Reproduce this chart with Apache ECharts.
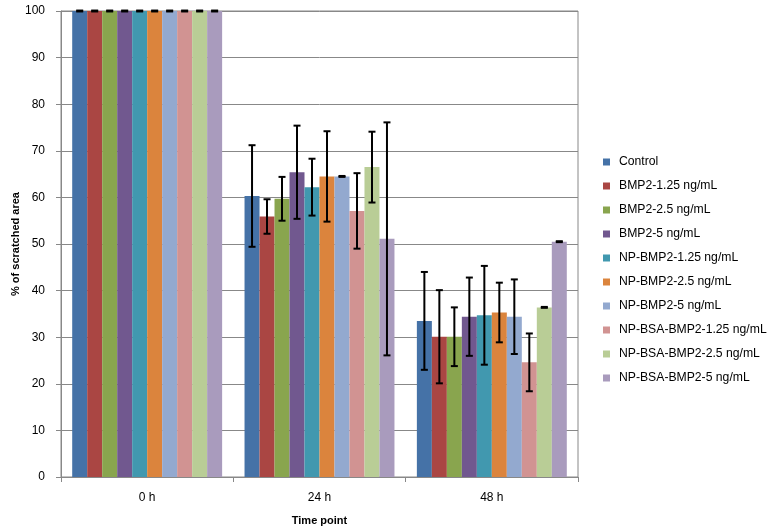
<!DOCTYPE html>
<html>
<head>
<meta charset="utf-8">
<script src="https://cdn.jsdelivr.net/npm/echarts@6/dist/echarts.min.js"></script>
<style>
  html, body { margin: 0; padding: 0; background: #fff; }
  #chart { width: 778px; height: 526px; }
</style>
</head>
<body>
<div id="chart"></div>
<script>
// Data
const timePoints = ['0 h', '24 h', '48 h'];
const groups = [
  'Control', 'BMP2-1.25 ng/mL', 'BMP2-2.5 ng/mL', 'BMP2-5 ng/mL',
  'NP-BMP2-1.25 ng/mL', 'NP-BMP2-2.5 ng/mL', 'NP-BMP2-5 ng/mL',
  'NP-BSA-BMP2-1.25 ng/mL', 'NP-BSA-BMP2-2.5 ng/mL', 'NP-BSA-BMP2-5 ng/mL'
];
// means per group: [0 h, 24 h, 48 h]
const means = [
  [100, 60.3, 33.5],
  [100, 55.9, 30.1],
  [100, 59.7, 30.1],
  [100, 65.4, 34.4],
  [100, 62.2, 34.7],
  [100, 64.5, 35.3],
  [100, 64.5, 34.4],
  [100, 57.1, 24.6],
  [100, 66.5, 36.4],
  [100, 51.1, 50.5]
];
// error (+/-) per group
const errors = [
  [0.1, 10.9, 10.5],
  [0.1, 3.7, 10.0],
  [0.1, 4.7, 6.3],
  [0.1, 10.0, 8.4],
  [0.1, 6.1, 10.6],
  [0.1, 9.7, 6.4],
  [0.1, 0.1, 8.0],
  [0.1, 8.1, 6.2],
  [0.1, 7.6, 0.1],
  [0.1, 25.0, 0.1]
];
const colors = ['#4572A7', '#AA4643', '#89A54E', '#71588F', '#4198AF',
  '#DB843D', '#93A9CF', '#D19392', '#B9CD96', '#A99BBD'];

const catGap = 0.13;
const font = 'Liberation Sans';

const chart = echarts.init(document.getElementById('chart'));

const series = [];
groups.forEach((name, i) => {
  series.push({
    name: name,
    type: 'bar',
    data: means[i],
    barGap: '0%',
    barCategoryGap: (catGap * 100) + '%',
    itemStyle: { color: colors[i] },
    z: 2
  });
});
groups.forEach((name, i) => {
  series.push({
    type: 'custom',
    name: name + ' err',
    z: 5,
    silent: true,
    data: means[i].map((m, j) => [j, m - errors[i][j], m + errors[i][j]]),
    renderItem: function (params, api) {
      const band = api.size([1, 0])[0];
      const total = band * (1 - catGap);
      const bw = total / groups.length;
      const c = api.coord([api.value(0), 0]);
      const x = c[0] - total / 2 + (i + 0.5) * bw;
      const lo = api.coord([api.value(0), api.value(1)])[1];
      const hi = api.coord([api.value(0), api.value(2)])[1];
      const cap = 3.5;
      const st = { stroke: '#000', lineWidth: 2 };
      return {
        type: 'group',
        children: [
          { type: 'line', shape: { x1: x, y1: lo, x2: x, y2: hi }, style: st },
          { type: 'line', shape: { x1: x - cap, y1: hi, x2: x + cap, y2: hi }, style: st },
          { type: 'line', shape: { x1: x - cap, y1: lo, x2: x + cap, y2: lo }, style: st }
        ]
      };
    }
  });
});

chart.setOption({
  animation: false,
  backgroundColor: '#fff',
  textStyle: { fontFamily: font },
  legend: {
    data: groups,
    orient: 'vertical',
    left: 598,
    top: 150,
    itemWidth: 7,
    itemHeight: 7,
    itemGap: 10,
    icon: 'rect',
    textStyle: { fontSize: 12.2, color: '#000', lineHeight: 14, fontFamily: font, padding: [0, 0, 0, 4] }
  },
  grid: {
    left: 61, right: 200, top: 11, bottom: 49,
    outerBoundsMode: 'none',
    show: true, borderColor: '#888', borderWidth: 1
  },
  xAxis: {
    type: 'category',
    data: timePoints,
    name: 'Time point',
    nameLocation: 'middle',
    nameGap: 38,
    nameMoveOverlap: false,
    nameTextStyle: { fontWeight: 'bold', fontSize: 11, color: '#000' },
    axisLine: { lineStyle: { color: '#888', width: 1 } },
    axisTick: { show: true, length: 5, lineStyle: { color: '#888' } },
    axisLabel: { color: '#000', fontSize: 12, margin: 15 },
    splitLine: { show: false }
  },
  yAxis: {
    type: 'value',
    min: 0,
    max: 100,
    interval: 10,
    name: '% of scratched area',
    nameLocation: 'middle',
    nameGap: 40,
    nameMoveOverlap: false,
    nameTextStyle: { fontWeight: 'bold', fontSize: 11, color: '#000' },
    axisLine: { show: true, lineStyle: { color: '#888' } },
    axisTick: { show: true, length: 5, lineStyle: { color: '#888' } },
    axisLabel: { color: '#000', fontSize: 12, margin: 16 },
    splitLine: { lineStyle: { color: '#888' } }
  },
  series: series
});
</script>
</body>
</html>
